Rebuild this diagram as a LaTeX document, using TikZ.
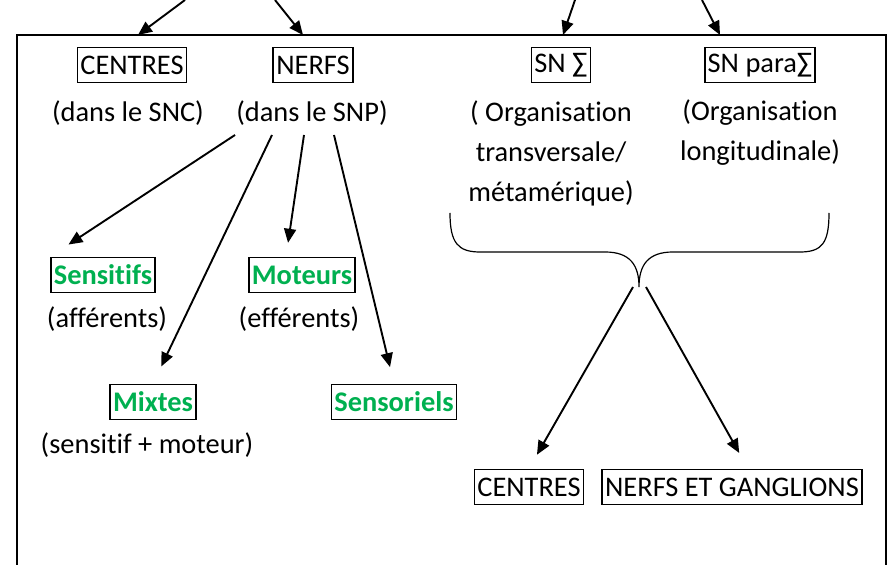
\documentclass[tikz,border=0pt]{standalone}
\usepackage{fontspec}
\setmainfont{Carlito}[Ligatures={NoCommon}]
\usetikzlibrary{arrows.meta, calc, positioning}
\definecolor{vert}{RGB}{0,176,80}

\begin{document}
\begin{tikzpicture}[x=0.5pt, y=-0.5pt, font=\fontsize{14.2}{20}\selectfont]
  \tikzstyle{boite} = [draw, line width=0.85pt, inner xsep=1.5pt, inner ysep=0pt, minimum height=17.5pt];
  \tikzstyle{vertbox} = [boite, text=vert, font=\fontsize{14.2}{20}\selectfont\bfseries];
  \tikzstyle{legende} = [inner sep=0pt, align=center];
  \tikzstyle{fleche} = [line width=0.95pt, -{Triangle[length=7pt, width=6pt]}];

  \useasboundingbox (0,0) rectangle (888,565);
  \draw[line width=1pt] (17,35) rectangle (886,600);

  \node[boite] (centres) at (132,65) {CENTRES};
  \node[boite] (nerfs) at (313,65) {NERFS};
  \node[boite] (sn) at (561,65) {SN ∑};
  \node[boite] (snpara) at (760,65) {SN para∑};

  \node[legende] (snc) at (128,113) {(dans le SNC)};
  \node[legende] (snp) at (312,113) {(dans le SNP)};
  \node[legende] (transv) at (551,153) {( Organisation\\transversale/\\métamérique)};
  \node[legende] (longi) at (760,133) {(Organisation\\longitudinale)};

  \node[vertbox] (sensitifs) at (103,275) {Sensitifs};
  \node[legende] (aff) at (107,319) {(afférents)};
  \node[vertbox] (moteurs) at (302,275) {Moteurs};
  \node[legende] (eff) at (299,319) {(efférents)};
  \node[vertbox] (mixtes) at (153,402) {Mixtes};
  \node[legende] (smot) at (147,445) {(sensitif + moteur)};
  \node[vertbox] (sensoriels) at (394,402) {Sensoriels};

  \node[boite] (centres2) at (529,487) {CENTRES};
  \node[boite] (ganglions) at (732,487) {NERFS ET GANGLIONS};

  % accolade
  \draw[line width=0.6pt] (450,213) .. controls (450,243) and (458,252) .. (480,252) -- (605,252)
    .. controls (630,252) and (639,265) .. (639,287)
    .. controls (639,265) and (648,252) .. (673,252) -- (800,252)
    .. controls (822,252) and (829,243) .. (829,213);
  \coordinate (pointe) at (639,287);

  % fleches du haut
  \coordinate (h1) at (185,0);
  \coordinate (h2) at (275,0);
  \coordinate (h3) at (575,0);
  \coordinate (h4) at (702,0);
  \coordinate (b1) at (138,35);
  \coordinate (b2) at (303,35);
  \coordinate (b3) at (563,35);
  \coordinate (b4) at (720,35);
  \draw[fleche] (h1) -- (b1);
  \draw[fleche] (h2) -- (b2);
  \draw[fleche] (h3) -- (b3);
  \draw[fleche] (h4) -- (b4);

  % nerfs
  \coordinate (d1) at (235,135);
  \coordinate (d2) at (272,135);
  \coordinate (d3) at (304,135);
  \coordinate (d4) at (334,135);
  \draw[fleche, shorten >=11pt] (d1) -- (sensitifs.north west);
  \draw[fleche, shorten >=9.5pt] (d2) -- (mixtes.north);
  \draw[fleche, shorten >=7pt] (d3) -- ([xshift=-8pt]moteurs.north);
  \draw[fleche, shorten >=8.5pt] (d4) -- (sensoriels.north);

  \draw[fleche, shorten >=8pt] ([xshift=-3pt]pointe) -- (centres2.north);
  \draw[fleche, shorten >=9pt] ([xshift=3.5pt]pointe) -- ([xshift=8pt]ganglions.north);
\end{tikzpicture}
\end{document}
